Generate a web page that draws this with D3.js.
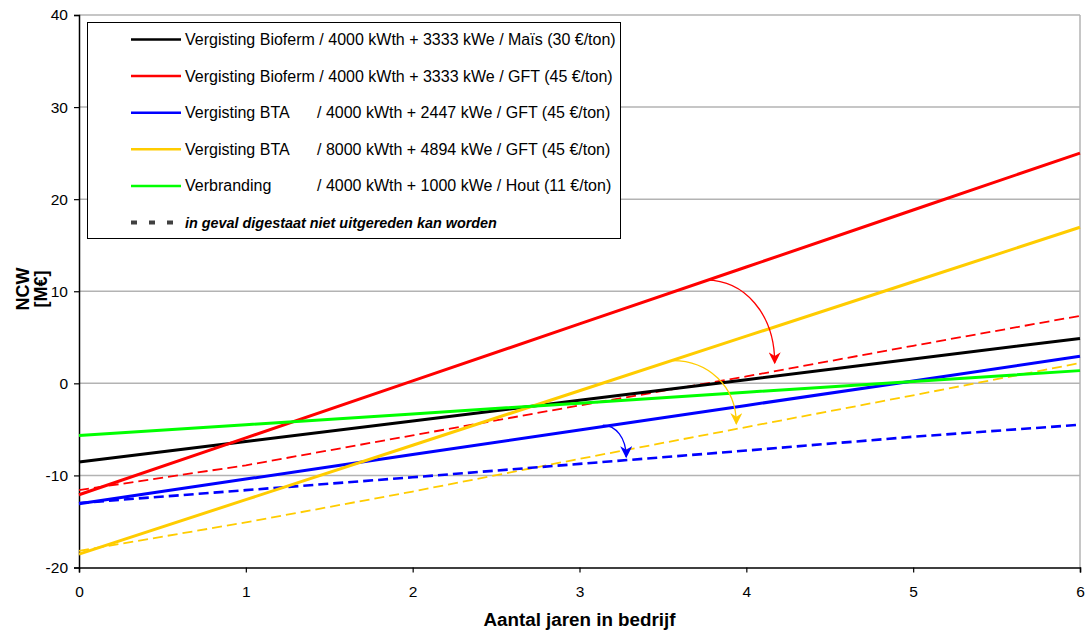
<!DOCTYPE html>
<html>
<head>
<meta charset="utf-8">
<script src="https://cdn.jsdelivr.net/npm/d3@7"></script>
<style>
  html, body { margin: 0; padding: 0; background: #fff; }
  svg { display: block; font-family: "Liberation Sans", Arial, sans-serif; }
</style>
</head>
<body>
<svg id="chart" width="1087" height="631"></svg>
<script>
// Years in operation (x values)
const years = [0, 1, 2, 3, 4, 5, 6];

// Net present value (NCW, M€) per scenario – solid lines
const bioefermMais = [-8.55, -6.31, -4.1, -1.84, 0.4, 2.64, 4.88];
const bioefermGft  = [-12.1, -5.92, 0.27, 6.45, 12.63, 18.82, 25.0];
const btaSmallGft  = [-13.07, -10.4, -7.74, -5.07, -2.4, 0.26, 2.93];
const btaLargeGft  = [-18.55, -12.63, -6.72, -0.8, 5.12, 11.03, 16.95];
const verbranding  = [-5.67, -4.5, -3.32, -2.15, -0.97, 0.21, 1.38];

// Same scenarios when the digestate cannot be spread – dashed lines
const bioefermGftDig = [-11.6, -8.9, -5.65, -2.4, 0.75, 4.08, 7.33];
const btaSmallGftDig = [-13.0, -11.6, -10.2, -8.75, -7.3, -5.8, -4.5];
const btaLargeGftDig = [-18.2, -15.1, -11.75, -8.2, -4.75, -1.3, 2.2];

// Axis ticks
const xTicks = [0, 1, 2, 3, 4, 5, 6];
const yTicks = [-20, -10, 0, 10, 20, 30, 40];

// Legend texts: scenario name and specification
const legendNames = ["Vergisting Bioferm", "Vergisting Bioferm", "Vergisting BTA", "Vergisting BTA", "Verbranding"];
const legendSpecs = [
  "/ 4000 kWth + 3333 kWe / Maïs (30 €/ton)",
  "/ 4000 kWth + 3333 kWe / GFT (45 €/ton)",
  "/ 4000 kWth + 2447 kWe / GFT (45 €/ton)",
  "/ 8000 kWth + 4894 kWe / GFT (45 €/ton)",
  "/ 4000 kWth + 1000 kWe / Hout (11 €/ton)"
];
const legendDashText = "in geval digestaat niet uitgereden kan worden";

// Arrows from a solid line to its dashed counterpart: [startYear, startValue, endYear, endValue]
const arrowRed    = [3.76, 11.2, 4.17, 2.2];
const arrowYellow = [3.56, 2.47, 3.94, -4.4];
const arrowBlue   = [3.14, -4.55, 3.28, -8.0];

const colors = { black: "#000000", red: "#ff0000", blue: "#0000ff", yellow: "#ffcc00", green: "#00ff00" };

const solidSeries = [
  { values: bioefermMais, color: colors.black },
  { values: bioefermGft,  color: colors.red },
  { values: btaSmallGft,  color: colors.blue },
  { values: btaLargeGft,  color: colors.yellow },
  { values: verbranding,  color: colors.green }
];
const dashedSeries = [
  { values: btaLargeGftDig, color: colors.yellow, width: 1.8 },
  { values: bioefermGftDig, color: colors.red, width: 1.8 },
  { values: btaSmallGftDig, color: colors.blue, width: 2.6 }
];

const svg = d3.select("#chart");
const m = { left: 79, right: 1080, top: 15, bottom: 567.5 };

const x = d3.scaleLinear().domain([0, 6]).range([m.left, m.right]);
const y = d3.scaleLinear().domain([-20, 40]).range([m.bottom, m.top]);

// Grid lines
svg.append("g").selectAll("line").data(yTicks.filter(v => v > -20)).join("line")
  .attr("x1", m.left).attr("x2", m.right)
  .attr("y1", d => y(d)).attr("y2", d => y(d))
  .attr("stroke", "#b3b3b3").attr("stroke-width", 1.5);

// Right border of the plot area
svg.append("line")
  .attr("x1", m.right).attr("x2", m.right).attr("y1", m.top).attr("y2", m.bottom)
  .attr("stroke", "#b3b3b3").attr("stroke-width", 1.5);

// Axes (plain hyphen-minus for negative labels)
const fmt = d => String(d);
const xAxis = svg.append("g").attr("transform", `translate(0,${m.bottom})`)
  .call(d3.axisBottom(x).tickValues(xTicks).tickFormat(fmt).tickSize(5).tickPadding(13));
const yAxis = svg.append("g").attr("transform", `translate(${m.left},0)`)
  .call(d3.axisLeft(y).tickValues(yTicks).tickFormat(fmt).tickSize(5).tickPadding(6));
[xAxis, yAxis].forEach(a => {
  a.select(".domain").attr("stroke", "#000").attr("stroke-width", 1.5);
  a.selectAll(".tick line").attr("stroke", "#000").attr("stroke-width", 1.2);
  a.selectAll(".tick text").attr("fill", "#000")
    .style("font-family", "'Liberation Sans', Arial, sans-serif").style("font-size", "15.5px");
});

const line = d3.line().x((d, i) => x(years[i])).y(d => y(d));

// Dashed series (drawn beneath the solid lines)
svg.append("g").selectAll("path").data(dashedSeries).join("path")
  .attr("d", d => line(d.values))
  .attr("fill", "none").attr("stroke", d => d.color)
  .attr("stroke-width", d => d.width).attr("stroke-dasharray", "10,5");

// Solid series
svg.append("g").selectAll("path").data(solidSeries).join("path")
  .attr("d", d => line(d.values))
  .attr("fill", "none").attr("stroke", d => d.color).attr("stroke-width", 3);

// Curved arrows
const defs = svg.append("defs");
[["red", colors.red], ["yellow", colors.yellow], ["blue", colors.blue]].forEach(([k, c]) => {
  defs.append("marker").attr("id", "arrow-" + k)
    .attr("viewBox", "0 0 10 10").attr("refX", 9).attr("refY", 5)
    .attr("markerWidth", 13).attr("markerHeight", 12).attr("markerUnits", "userSpaceOnUse")
    .attr("orient", "auto")
    .append("path").attr("d", "M0,0 L10,5 L0,10 L3,5 Z").attr("fill", c);
});
function arrowPath(a) {
  const sx = x(a[0]), sy = y(a[1]), ex = x(a[2]), ey = y(a[3]);
  const dx = ex - sx, dy = ey - sy;
  const p = d3.path();
  p.moveTo(sx, sy);
  p.bezierCurveTo(sx + 0.55 * dx, sy, ex, sy + 0.4 * dy, ex, ey);
  return p.toString();
}
[[arrowRed, "red", colors.red], [arrowYellow, "yellow", colors.yellow], [arrowBlue, "blue", colors.blue]]
  .forEach(([a, k, c]) => {
    svg.append("path").attr("d", arrowPath(a)).attr("fill", "none")
      .attr("stroke", c).attr("stroke-width", 1.3).attr("marker-end", `url(#arrow-${k})`);
  });

// Legend
const lg = svg.append("g");
lg.append("rect").attr("x", 87.5).attr("y", 22.5).attr("width", 533).attr("height", 216)
  .attr("fill", "#fff").attr("stroke", "#000").attr("stroke-width", 1);
const rowY = i => 39.5 + 36.6 * i;
const specTab = 317;
solidSeries.forEach((s, i) => {
  lg.append("line").attr("x1", 131).attr("x2", 181).attr("y1", rowY(i)).attr("y2", rowY(i))
    .attr("stroke", s.color).attr("stroke-width", 2.5);
  const nameText = lg.append("text").attr("x", 185).attr("y", rowY(i) + 5.5).attr("font-size", 16)
    .attr("fill", "#000").text(legendNames[i]);
  // Specification aligned on a tab stop, or after a space when the name is longer
  const nameEnd = 185 + nameText.node().getComputedTextLength();
  lg.append("text").attr("x", Math.max(specTab, nameEnd + 4.5)).attr("y", rowY(i) + 5.5)
    .attr("font-size", 16).attr("fill", "#000").text(legendSpecs[i]);
});
lg.append("line").attr("x1", 131).attr("x2", 175).attr("y1", rowY(5)).attr("y2", rowY(5))
  .attr("stroke", "#404040").attr("stroke-width", 4).attr("stroke-dasharray", "6,12");
lg.append("text").attr("x", 185).attr("y", rowY(5) + 5).attr("font-size", 14.4)
  .attr("font-weight", "bold").attr("font-style", "italic").attr("fill", "#000").text(legendDashText);

// Axis titles
svg.append("text").attr("x", (m.left + m.right) / 2).attr("y", 626)
  .attr("text-anchor", "middle").attr("font-size", 18.8).attr("font-weight", "bold")
  .text("Aantal jaren in bedrijf");
const yt = svg.append("text").attr("transform", "translate(0,289) rotate(-90)")
  .attr("text-anchor", "middle").attr("font-size", 18).attr("font-weight", "bold");
yt.append("tspan").attr("x", 0).attr("y", 29).text("NCW");
yt.append("tspan").attr("x", 0).attr("y", 47).text("[M€]");
</script>
</body>
</html>
